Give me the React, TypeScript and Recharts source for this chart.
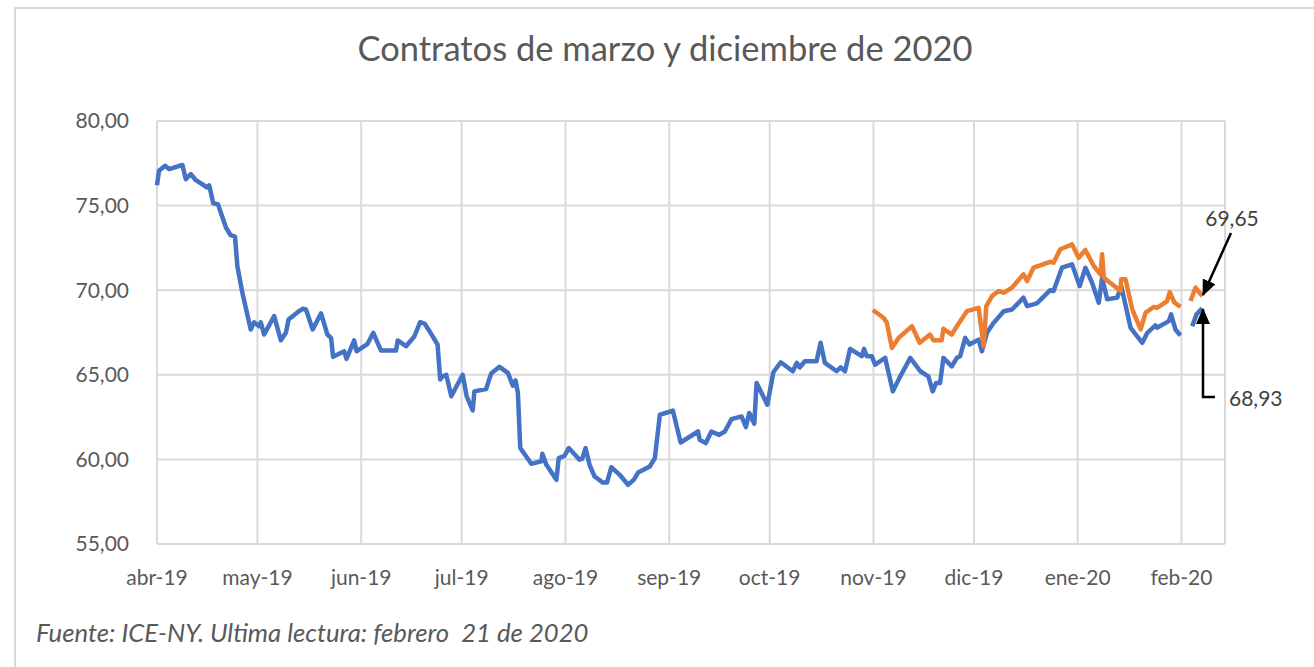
import { LineChart, Line, XAxis, YAxis, CartesianGrid } from "recharts";

// días desde el 1 de abril de 2019
const mesesDias = [0, 30, 61, 91, 122, 153, 183, 214, 244, 275, 306];
const mesesLabels = ["abr-19", "may-19", "jun-19", "jul-19", "ago-19", "sep-19", "oct-19", "nov-19", "dic-19", "ene-20", "feb-20"];
const yTicks = [55, 60, 65, 70, 75, 80];

// contrato marzo 2020 (azul)
const marzoDias = [
  0, 0.6, 2.4, 3.6, 7.6, 8.6, 10.1, 11.6, 15.0, 15.6, 16.8, 18.2, 20.6, 22.0, 23.3, 24.0, 25.5, 28.0, 29.0, 30.5,
  31.0, 32.0, 35.0, 37.0, 38.5, 39.3, 42.0, 43.5, 44.5, 46.5, 49.0, 50.9, 52.0, 52.6, 55.9, 56.6, 58.9, 59.6, 62.9, 64.6,
  66.9, 71.4, 71.9, 74.4, 76.9, 78.6, 79.9, 81.7, 83.8, 84.6, 85.3, 86.4, 87.9, 91.3, 92.5, 94.3, 94.8, 98.3, 99.8, 102.3,
  104.8, 106.3, 107.1, 107.8, 108.5, 111.8, 114.8, 115.1, 116.3, 119.3, 120.0, 121.7, 123.0, 126.2, 127.0, 128.0, 129.2, 130.7, 133.2, 134.4,
  135.7, 138.2, 140.7, 142.4, 143.7, 147.2, 148.7, 150.2, 154.1, 156.4, 161.6, 162.1, 163.9, 165.6, 167.9, 169.6, 171.6, 174.6, 175.9, 176.9,
  178.4, 179.1, 182.3, 184.1, 186.3, 189.9, 191.1, 192.0, 193.5, 197.0, 198.2, 199.5, 203.0, 204.2, 205.5, 207.0, 210.5, 211.2, 212.0, 213.5,
  214.5, 217.5, 219.8, 222.0, 225.0, 228.0, 230.4, 231.7, 232.7, 233.9, 234.9, 237.4, 238.9, 239.9, 241.4, 242.7, 245.4, 246.4, 247.9, 249.9,
  252.9, 255.4, 258.8, 259.9, 262.8, 266.8, 267.8, 270.3, 273.3, 275.6, 277.3, 279.3, 281.3, 282.3, 283.8, 286.8, 288.0, 290.8, 294.3, 295.8,
  298.2, 298.7, 302.2, 302.9, 304.2, 305.7, 307.5, 309.2, 310.5, 312.2,
];
const marzoValores = [
  76.2, 77.06, 77.35, 77.16, 77.4, 76.56, 76.86, 76.5, 76.07, 76.2, 75.14, 75.08, 73.7, 73.25, 73.17, 71.43, 69.85, 67.68, 68.1, 67.87,
  68.1, 67.38, 68.47, 67.04, 67.48, 68.27, 68.7, 68.9, 68.86, 67.68, 68.63, 67.38, 67.18, 66.06, 66.39, 65.94, 67.03, 66.39, 66.83, 67.48,
  66.43, 66.43, 67.03, 66.69, 67.28, 68.11, 68.03, 67.48, 66.79, 64.72, 64.91, 65.0, 63.73, 65.0, 63.73, 62.9, 64.02, 64.16, 65.07, 65.47,
  65.11, 64.36, 64.67, 63.92, 60.67, 59.74, 59.88, 60.33, 59.68, 58.79, 60.08, 60.21, 60.67, 59.98, 60.04, 60.67, 59.68, 58.99, 58.63, 58.63,
  59.54, 59.09, 58.5, 58.79, 59.22, 59.58, 60.08, 62.64, 62.88, 61.0, 61.65, 61.16, 60.96, 61.65, 61.45, 61.65, 62.38, 62.54, 61.91, 62.74,
  62.11, 64.52, 63.23, 65.15, 65.74, 65.21, 65.7, 65.44, 65.8, 65.8, 66.89, 65.7, 65.21, 65.44, 65.21, 66.53, 66.1, 66.53, 66.1, 66.1,
  65.6, 66.0, 64.02, 64.91, 66.0, 65.21, 64.91, 64.02, 64.52, 64.52, 66.0, 65.5, 66.0, 66.1, 67.18, 66.79, 67.08, 66.39, 67.48, 68.07,
  68.76, 68.86, 69.56, 69.06, 69.22, 70.0, 69.95, 71.33, 71.53, 70.25, 71.33, 70.44, 69.26, 70.74, 69.46, 69.56, 70.25, 67.78, 66.89, 67.48,
  67.92, 67.78, 68.17, 68.57, 67.68, 67.32, null, 67.87, 68.57, 68.93,
];

// contrato diciembre 2020 (naranja)
const diciembreDias = [
  213.8, 217.0, 218.0, 219.5, 221.5, 225.5, 227.8, 230.9, 231.9, 234.4, 234.9, 237.4, 238.9, 241.9, 245.4, 246.9, 247.7, 249.4, 251.4, 252.9,
  255.4, 258.8, 259.9, 261.8, 266.8, 267.8, 269.8, 273.3, 275.3, 277.3, 279.8, 281.8, 282.3, 282.8, 287.8, 288.0, 289.3, 291.3, 293.8, 295.3,
  297.8, 298.7, 301.7, 302.5, 303.9, 305.7, 307.2, 308.7, 310.2, 312.2,
];
const diciembreValores = [
  68.83, 68.37, 68.07, 66.59, 67.18, 67.87, 66.89, 67.38, 67.04, 67.04, 67.72, 67.38, 67.87, 68.76, 68.96, 66.69, 69.06, 69.65, 69.95, 69.85,
  70.15, 70.94, 70.54, 71.33, 71.68, 71.63, 72.42, 72.71, 71.92, 72.38, 71.43, 70.94, 72.12, 70.74, 69.95, 70.64, 70.64, 68.86, 67.68, 68.67,
  69.02, 68.96, 69.36, 69.89, 69.26, 69.02, null, 69.36, 70.15, 69.65,
];

const marzo = marzoDias.map((d, i) => ({ dia: d, valor: marzoValores[i] }));
const diciembre = diciembreDias.map((d, i) => ({ dia: d, valor: diciembreValores[i] }));

const gris = "#595959";
const fuente = "Lato, 'Open Sans', sans-serif";

export default function App() {
  return (
    <div
      style={{
        position: "absolute",
        left: 0,
        top: 0,
        width: 1314,
        height: 667,
        background: "#fff",
        overflow: "hidden",
        fontFamily: fuente,
      }}
    >
      <div
        style={{
          position: "absolute",
          left: 14,
          top: 7,
          width: 1400,
          height: 700,
          borderLeft: "2px solid #d9d9d9",
          borderTop: "2px solid #d9d9d9",
        }}
      />
      <div
        style={{
          position: "absolute",
          left: 0,
          width: 1330,
          top: 27,
          textAlign: "center",
          fontSize: 34.5,
          color: gris,
        }}
      >
        Contratos de marzo y diciembre de 2020
      </div>

      <div style={{ position: "absolute", left: 0, top: 0 }}>
        <LineChart
          width={1314}
          height={667}
          margin={{ top: 121, right: 89, bottom: 93, left: 97 }}
        >
          <CartesianGrid stroke="#d9d9d9" strokeWidth={2} />
          <XAxis
            type="number"
            dataKey="dia"
            domain={[0, 319]}
            ticks={mesesDias}
            tickFormatter={(v) => mesesLabels[mesesDias.indexOf(v)]}
            axisLine={false}
            tickLine={false}
            tickSize={0}
            tickMargin={26}
            height={30}
            allowDuplicatedCategory={false}
            tick={{ fontSize: 21, fill: gris, fontFamily: fuente }}
          />
          <YAxis
            type="number"
            domain={[55, 80]}
            ticks={yTicks}
            tickFormatter={(v) => v.toFixed(2).replace(".", ",")}
            axisLine={false}
            tickLine={false}
            tickSize={0}
            tickMargin={28}
            width={60}
            tick={{ fontSize: 21, fill: gris, fontFamily: fuente }}
          />
          <Line
            data={marzo}
            dataKey="valor"
            stroke="#4472C4"
            strokeWidth={4.5}
            dot={false}
            isAnimationActive={false}
            strokeLinejoin="round"
          />
          <Line
            data={diciembre}
            dataKey="valor"
            stroke="#ED7D31"
            strokeWidth={4.5}
            dot={false}
            isAnimationActive={false}
            strokeLinejoin="round"
          />
        </LineChart>
      </div>

      <svg
        width={1314}
        height={667}
        style={{ position: "absolute", left: 0, top: 0, pointerEvents: "none" }}
      >
        <defs>
          <marker id="flecha" markerWidth="16" markerHeight="14" refX="15" refY="7" orient="auto" markerUnits="userSpaceOnUse">
            <path d="M0,0 L16,7 L0,14 z" fill="#000" />
          </marker>
        </defs>
        <line x1={1231} y1={233} x2={1203} y2={295} stroke="#000" strokeWidth={2.5} markerEnd="url(#flecha)" />
        <polyline points="1215,397 1203,397 1203,309" fill="none" stroke="#000" strokeWidth={2.5} markerEnd="url(#flecha)" />
        <text x={1232} y={226} textAnchor="middle" fontSize={21} fill="#404040" fontFamily={fuente}>69,65</text>
        <text x={1229} y={406} fontSize={21} fill="#404040" fontFamily={fuente}>68,93</text>
      </svg>

      <div
        style={{
          position: "absolute",
          left: 36,
          top: 617,
          fontSize: 25.7,
          fontStyle: "italic",
          color: gris,
          whiteSpace: "pre",
        }}
      >
        Fuente: ICE-NY. Ultima lectura: febrero  21 de 2020
      </div>
    </div>
  );
}
